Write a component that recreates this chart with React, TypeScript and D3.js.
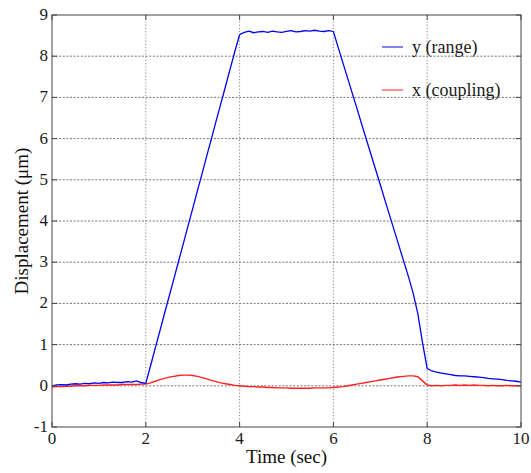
import React from "react";
import * as d3 from "d3";

const timeStep = 0.1;
const yRange: number[] = [
  0.00,0.02,0.03,0.02,0.04,0.05,0.04,0.06,0.05,0.07,0.06,0.08,0.07,0.09,0.08,0.08,0.10,0.09,0.12,0.08,0.06,
  0.48,0.91,1.33,1.76,2.18,2.60,3.03,3.45,3.88,4.30,4.73,5.15,5.58,6.00,6.43,6.85,7.27,7.70,8.12,8.52,
  8.58,8.61,8.57,8.59,8.60,8.58,8.61,8.59,8.58,8.60,8.62,8.59,8.60,8.62,8.61,8.63,8.61,8.60,8.62,8.60,
  8.22,7.85,7.48,7.11,6.74,6.36,5.99,5.62,5.25,4.88,4.50,4.13,3.76,3.39,3.02,2.65,2.25,1.75,1.05,0.42,
  0.36,0.33,0.31,0.29,0.27,0.25,0.24,0.24,0.23,0.22,0.21,0.20,0.18,0.17,0.16,0.15,0.13,0.12,0.11,0.09,
];
const xCoupling: number[] = [
  -0.03,-0.02,-0.02,-0.01,-0.01,0.00,0.00,0.00,0.01,0.01,0.01,0.02,0.02,0.02,0.02,0.03,0.03,0.03,0.03,0.04,0.04,
  0.07,0.11,0.15,0.18,0.21,0.23,0.25,0.26,0.26,0.25,0.23,0.20,0.17,0.13,0.10,0.07,0.05,0.03,0.01,0.00,
  -0.01,-0.02,-0.02,-0.03,-0.03,-0.04,-0.04,-0.05,-0.05,-0.05,-0.06,-0.06,-0.06,-0.06,-0.06,-0.05,-0.05,-0.05,-0.05,-0.04,
  -0.03,-0.02,0.00,0.02,0.04,0.06,0.08,0.10,0.12,0.14,0.16,0.18,0.20,0.22,0.23,0.24,0.24,0.22,0.12,0.02,
  0.00,0.01,0.00,0.01,0.01,0.02,0.01,0.02,0.01,0.02,0.01,0.01,0.00,0.01,0.00,0.00,0.01,0.00,0.00,0.00,
];
const xTicks = [0, 2, 4, 6, 8, 10];
const yTicks = [-1, 0, 1, 2, 3, 4, 5, 6, 7, 8, 9];
const seriesNames = ["y (range)", "x (coupling)"];
const seriesColors = ["#0000ee", "#ff2020"];

const FAMILY = "Liberation Serif, Times New Roman, serif";

export default function App() {
  const W = 531, H = 473;
  const L = 52, R = 521, T = 15, B = 427;
  const x = d3.scaleLinear().domain([0, 10]).range([L, R]);
  const y = d3.scaleLinear().domain([-1, 9]).range([B, T]);
  const line = d3.line<number>().x((_, i) => x(i * timeStep)).y((d) => y(d));
  return (
    <svg width={W} height={H} fontFamily={FAMILY} style={{ position: "absolute", left: 0, top: 0 }}>
      <rect width={W} height={H} fill="white" />
      {xTicks.slice(1, -1).map((t) => (
        <line key={"gx" + t} x1={x(t)} x2={x(t)} y1={T} y2={B} stroke="#777" strokeWidth={0.9} strokeDasharray="1.2,2" />
      ))}
      {yTicks.slice(1, -1).map((t) => (
        <line key={"gy" + t} x1={L} x2={R} y1={y(t)} y2={y(t)} stroke="#666" strokeWidth={0.9} strokeDasharray="2,1.6" />
      ))}
      <path d={line(xCoupling) || ""} fill="none" stroke={seriesColors[1]} strokeWidth={1.4} />
      <path d={line(yRange) || ""} fill="none" stroke={seriesColors[0]} strokeWidth={1.3} />
      <rect x={L} y={T} width={R - L} height={B - T} fill="none" stroke="#444" strokeWidth={1} />
      {xTicks.map((t) => (
        <g key={"tx" + t}>
          <line x1={x(t)} x2={x(t)} y1={B} y2={B - 5} stroke="#444" />
          <line x1={x(t)} x2={x(t)} y1={T} y2={T + 5} stroke="#444" />
          <text x={x(t)} y={B + 17} textAnchor="middle" fontFamily={FAMILY} fontSize={17} fill="#1a1a1a">{t}</text>
        </g>
      ))}
      {yTicks.map((t) => (
        <g key={"ty" + t}>
          <line x1={L} x2={L + 5} y1={y(t)} y2={y(t)} stroke="#444" />
          <line x1={R} x2={R - 5} y1={y(t)} y2={y(t)} stroke="#444" />
          <text x={L - 4} y={y(t) + 5} textAnchor="end" fontFamily={FAMILY} fontSize={17} fill="#1a1a1a">{t}</text>
        </g>
      ))}
      <text x={(L + R) / 2} y={463} textAnchor="middle" fontFamily={FAMILY} fontSize={19} fill="#111">Time (sec)</text>
      <text transform={`translate(28,${(T + B) / 2}) rotate(-90)`} textAnchor="middle" fontFamily={FAMILY} fontSize={19} fill="#111">Displacement (μm)</text>
      {seriesNames.map((n, i) => (
        <g key={n}>
          <line x1={382} x2={403} y1={47 + i * 43} y2={47 + i * 43} stroke={seriesColors[i]} strokeWidth={1} />
          <text x={412} y={53 + i * 43} fontFamily={FAMILY} fontSize={18} fill="#1a1a1a">{n}</text>
        </g>
      ))}
    </svg>
  );
}
